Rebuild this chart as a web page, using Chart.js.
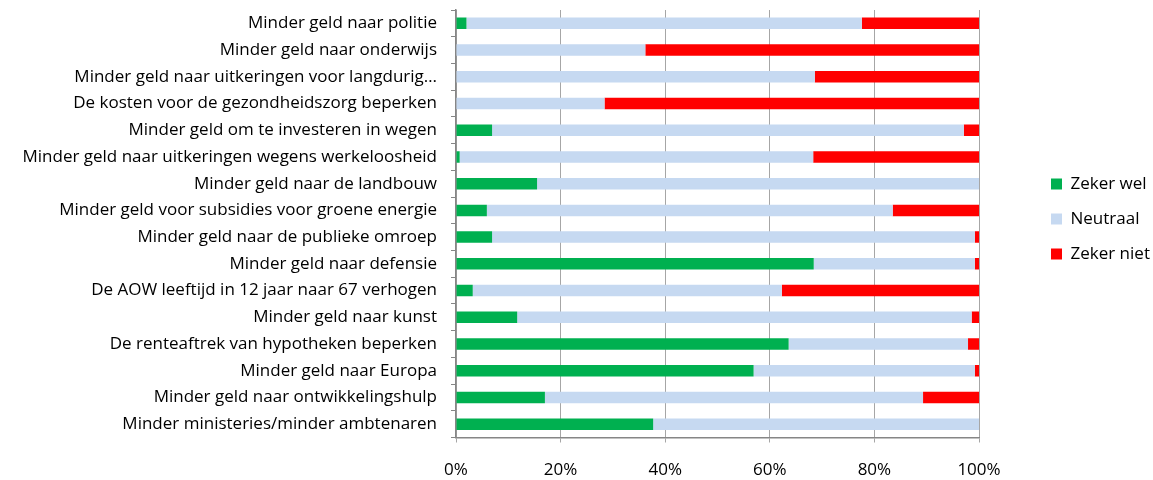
<!DOCTYPE html>
<html>
<head>
<meta charset="utf-8">
<script src="https://cdn.jsdelivr.net/npm/chart.js@4/dist/chart.umd.min.js"></script>
<style>
	html, body { margin: 0; padding: 0; background: #ffffff; }
	#wrap { width: 1153px; height: 480px; position: relative; }
</style>
</head>
<body>
<div id="wrap"><canvas id="bar-chart"></canvas></div>
<script>
const categories = [
	"Minder geld naar politie",
	"Minder geld naar onderwijs",
	"Minder geld naar uitkeringen voor langdurig…",
	"De kosten voor de gezondheidszorg beperken",
	"Minder geld om te investeren in wegen",
	"Minder geld naar uitkeringen wegens werkeloosheid",
	"Minder geld naar de landbouw",
	"Minder geld voor subsidies voor groene energie",
	"Minder geld naar de publieke omroep",
	"Minder geld naar defensie",
	"De AOW leeftijd in 12 jaar naar 67 verhogen",
	"Minder geld naar kunst",
	"De renteaftrek van hypotheken beperken",
	"Minder geld naar Europa",
	"Minder geld naar ontwikkelingshulp",
	"Minder ministeries/minder ambtenaren",
];
const zekerWel = [2.0, 0, 0, 0, 6.9, 0.7, 15.5, 5.9, 6.9, 68.4, 3.2, 11.7, 63.6, 56.9, 17.0, 37.7];
const neutraal = [75.6, 36.2, 68.6, 28.4, 90.2, 67.6, 84.5, 77.6, 92.3, 30.8, 59.1, 86.9, 34.3, 42.3, 72.3, 62.3];
const zekerNiet = [22.4, 63.8, 31.4, 71.6, 2.9, 31.7, 0, 16.5, 0.8, 0.8, 37.7, 1.4, 2.1, 0.8, 10.7, 0];
const xTicks = [0, 20, 40, 60, 80, 100];

const font = { family: "'Open Sans', sans-serif", size: 17 };

// legend sits well right of the plot, like the Excel original
const legendPlace = {
	id: "legendPlace",
	beforeLayout(chart) {
		const lg = chart.legend;
		if (lg && !lg._fixed) {
			const fit = lg.fit;
			lg.fit = function () {
				fit.call(this);
				this.width = 1153 - 979;
			};
			lg._fixed = true;
		}
	},
	afterLayout(chart) {
		const lg = chart.legend;
		lg.left = 1051 - lg.options.labels.padding;
		lg.top -= 52;
	},
};

new Chart(document.getElementById("bar-chart"), {
	type: "bar",
	data: {
		labels: categories,
		datasets: [
			{
				label: "Zeker wel",
				backgroundColor: "#00b050",
				data: zekerWel,
			},
			{
				label: "Neutraal",
				backgroundColor: "#c6d9f1",
				data: neutraal,
			},
			{
				label: "Zeker niet",
				backgroundColor: "#ff0000",
				data: zekerNiet,
			},
		],
	},
	plugins: [legendPlace],
	options: {
		indexAxis: "y",
		responsive: true,
		maintainAspectRatio: false,
		animation: false,
		barPercentage: 0.43,
		categoryPercentage: 1,
		layout: { padding: { top: 10, left: 0, right: 0, bottom: 0 } },
		scales: {
			x: {
				stacked: true,
				min: 0,
				max: 100,
				afterBuildTicks(scale) {
					scale.ticks = xTicks.map((v) => ({ value: v }));
				},
				afterFit(scale) {
					scale.height = 42.5;
				},
				ticks: {
					color: "#000000",
					font: font,
					padding: 17,
					callback: (v) => v + "%",
				},
				grid: {
					color: "#a6a6a6",
					lineWidth: 1,
					tickLength: 5,
				},
				border: { color: "#868686", width: 1.5 },
			},
			y: {
				stacked: true,
				afterFit(scale) {
					scale.width = 456;
					scale.paddingTop = 0;
					scale.paddingBottom = 0;
				},
				ticks: {
					color: "#000000",
					font: font,
					padding: 14,
					autoSkip: false,
				},
				grid: {
					offset: true,
					drawOnChartArea: false,
					color: "#868686",
					tickLength: 5,
				},
				border: { color: "#868686", width: 1.5 },
			},
		},
		plugins: {
			title: { display: false },
			tooltip: { enabled: false },
			legend: {
				position: "right",
				labels: {
					color: "#000000",
					font: font,
					boxWidth: 11,
					boxHeight: 11,
					padding: 18,
				},
			},
		},
	},
});
</script>
</body>
</html>
